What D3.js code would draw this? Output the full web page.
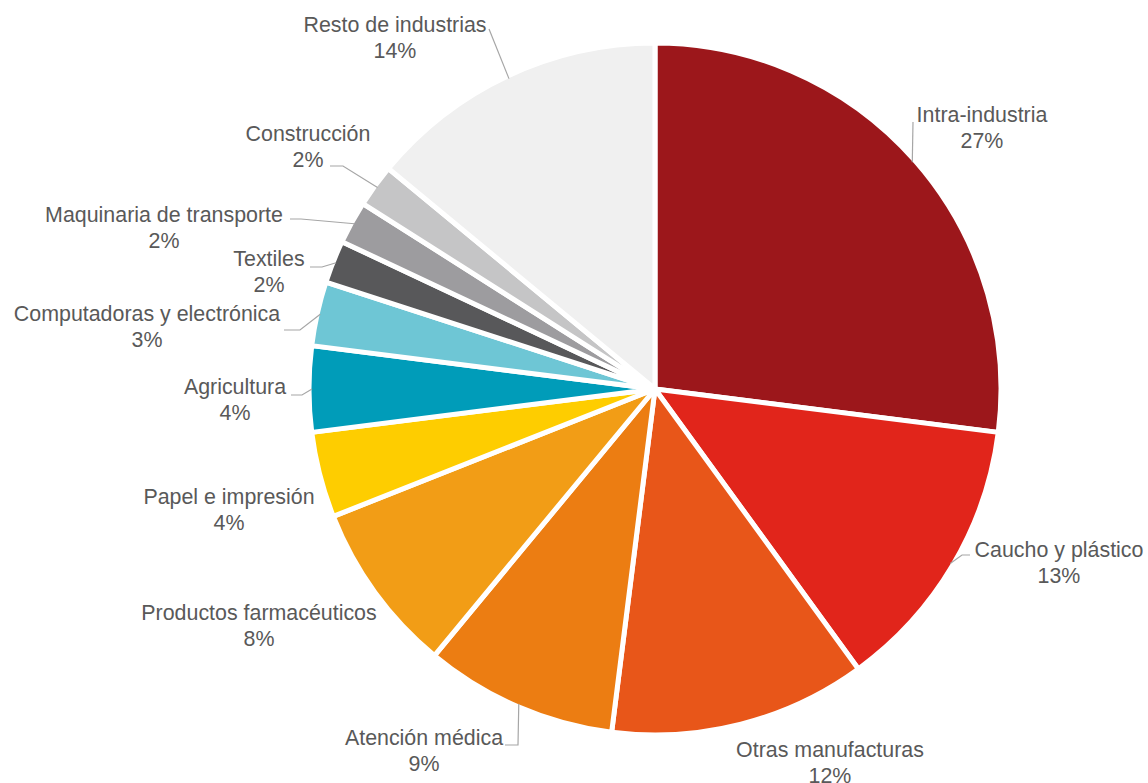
<!DOCTYPE html>
<html lang="es">
<head>
<meta charset="utf-8">
<script src="https://cdn.jsdelivr.net/npm/d3@7"></script>
<style>
  html, body { margin: 0; padding: 0; background: #ffffff; }
  svg { display: block; }
  text { font-family: "Liberation Sans", Arial, sans-serif; }
</style>
</head>
<body>
<svg id="chart" width="1148" height="783"></svg>
<script>
// Sector shares (%) of the distribution, clockwise from 12 o'clock
const categories = [
  "Intra-industria",
  "Caucho y plástico",
  "Otras manufacturas",
  "Atención médica",
  "Productos farmacéuticos",
  "Papel e impresión",
  "Agricultura",
  "Computadoras y electrónica",
  "Textiles",
  "Maquinaria de transporte",
  "Construcción",
  "Resto de industrias"
];
const shares = [27, 13, 12, 9, 8, 4, 4, 3, 2, 2, 2, 14];
const percentLabels = shares.map(v => v + "%");

const sliceColors = [
  "#9c171b", "#e1251b", "#e85619", "#ec7d12", "#f29d16", "#fecd00",
  "#009cb9", "#6ec6d5", "#58585a", "#9d9c9f", "#c5c5c6", "#f0f0f0"
];

// Label placement: centre x and first-line baseline of each two-line label
const labelAnchors = [
  [982, 122], [1059, 557], [830, 757], [424, 745], [259, 620], [229, 504],
  [235, 394], [147, 321], [269, 266], [164, 222], [308, 141], [395, 32]
];
// Leader line points running from the label toward the slice edge
const leaderPoints = [
  [[913, 122]],
  [[970, 555], [962, 555]],
  null,
  [[505, 745], [518, 745]],
  null,
  null,
  [[291, 395], [302, 395]],
  [[284, 330], [300, 330]],
  [[310, 267], [322, 267]],
  [[290, 219], [301, 219]],
  [[330, 166], [343, 166]],
  [[489, 29]]
];

const svg = d3.select("#chart");
const cx = 655, cy = 389, radius = 346;

const pie = d3.pie().value(d => d).sort(null);
const arcs = pie(shares);
const arc = d3.arc().innerRadius(0).outerRadius(radius);

const g = svg.append("g").attr("transform", `translate(${cx},${cy})`);

g.selectAll("path.slice")
  .data(arcs)
  .join("path")
  .attr("class", "slice")
  .attr("d", arc)
  .attr("fill", (d, i) => sliceColors[i])
  .attr("stroke", "#ffffff")
  .attr("stroke-width", 5)
  .attr("stroke-linejoin", "round");

// Point on the slice's outer rim at its mid angle
function rimPoint(d, r) {
  const a = (d.startAngle + d.endAngle) / 2;
  return [cx + r * Math.sin(a), cy - r * Math.cos(a)];
}

const line = d3.line();
svg.append("g")
  .selectAll("path.leader")
  .data(arcs.filter((d, i) => leaderPoints[i]))
  .join("path")
  .attr("class", "leader")
  .attr("d", d => line(leaderPoints[d.index].concat([rimPoint(d, radius - 3)])))
  .attr("fill", "none")
  .attr("stroke", "#a6a6a6")
  .attr("stroke-width", 1.2);

const labels = svg.append("g")
  .selectAll("text.label")
  .data(arcs)
  .join("text")
  .attr("class", "label")
  .attr("x", d => labelAnchors[d.index][0])
  .attr("y", d => labelAnchors[d.index][1])
  .attr("text-anchor", "middle")
  .attr("fill", "#595959")
  .style("font-size", "21.4px");

labels.append("tspan")
  .attr("x", d => labelAnchors[d.index][0])
  .text(d => categories[d.index]);
labels.append("tspan")
  .attr("x", d => labelAnchors[d.index][0])
  .attr("dy", 25.5)
  .text(d => percentLabels[d.index]);
</script>
</body>
</html>
